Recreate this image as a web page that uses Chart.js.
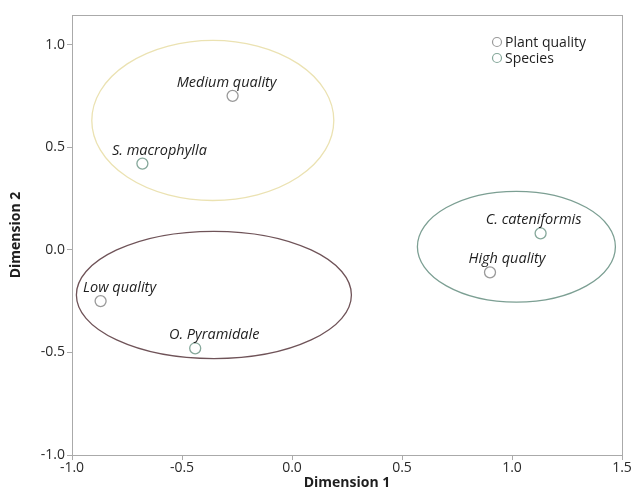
<!DOCTYPE html>
<html>
<head>
<meta charset="utf-8">
<script src="https://cdn.jsdelivr.net/npm/chart.js@4.4.1/dist/chart.umd.min.js"></script>
<style>
  html, body { margin: 0; padding: 0; background: #fff; }
  #wrap { width: 633px; height: 491px; }
</style>
</head>
<body>
<div id="wrap"><canvas id="chart"></canvas></div>
<script>
// Plant quality points
const qualityNames = ["Medium quality", "Low quality", "High quality"];
const qualityX = [-0.27, -0.87, 0.90];
const qualityY = [0.75, -0.25, -0.11];

// Species points
const speciesNames = ["S. macrophylla", "O. Pyramidale", "C. cateniformis"];
const speciesX = [-0.68, -0.44, 1.13];
const speciesY = [0.42, -0.48, 0.08];

// Grouping ellipses (centre and radii in data units)
const ellipseCX = [-0.36, -0.355, 1.02];
const ellipseCY = [0.63, -0.22, 0.015];
const ellipseRX = [0.55, 0.625, 0.45];
const ellipseRY = [0.39, 0.31, 0.27];

// Tick labels
const xTicks = [-1.0, -0.5, 0.0, 0.5, 1.0, 1.5];
const yTicks = [-1.0, -0.5, 0.0, 0.5, 1.0];

// styling (kept apart from the data)
const ellipseColors = ["#ebe2b2", "#6f5358", "#7c9f93"];
const qualityLabelDx = [-6, 19, 17];
const speciesLabelDx = [17, 19, -7];
const FONT = "'Open Sans', 'Noto Sans', sans-serif";

function toPoints(xs, ys) {
  return xs.map((x, i) => ({ x: x, y: ys[i] }));
}

// ellipses, frame, point labels and legend
const extras = {
  id: "extras",
  beforeDatasetsDraw(chart) {
    const ctx = chart.ctx;
    const xs = chart.scales.x;
    const ys = chart.scales.y;
    ctx.save();
    for (let i = 0; i < ellipseCX.length; i++) {
      const cx = xs.getPixelForValue(ellipseCX[i]);
      const cy = ys.getPixelForValue(ellipseCY[i]);
      const rx = Math.abs(xs.getPixelForValue(ellipseCX[i] + ellipseRX[i]) - cx);
      const ry = Math.abs(ys.getPixelForValue(ellipseCY[i] + ellipseRY[i]) - cy);
      ctx.beginPath();
      ctx.ellipse(cx, cy, rx, ry, 0, 0, Math.PI * 2);
      ctx.strokeStyle = ellipseColors[i];
      ctx.lineWidth = 1.3;
      ctx.stroke();
    }
    ctx.restore();
  },
  afterDatasetsDraw(chart) {
    const ctx = chart.ctx;
    const area = chart.chartArea;
    ctx.save();
    // frame
    ctx.strokeStyle = "#aaaaaa";
    ctx.lineWidth = 1;
    ctx.strokeRect(area.left + 0.5, area.top + 0.5, area.right - area.left, area.bottom - area.top);

    // point labels
    ctx.font = "italic 14.5px " + FONT;
    ctx.fillStyle = "#1e1e1e";
    ctx.textAlign = "center";
    ctx.textBaseline = "alphabetic";
    const groups = [
      { names: qualityNames, dx: qualityLabelDx, meta: chart.getDatasetMeta(0) },
      { names: speciesNames, dx: speciesLabelDx, meta: chart.getDatasetMeta(1) },
    ];
    groups.forEach((g) => {
      g.meta.data.forEach((pt, i) => {
        ctx.fillText(g.names[i], pt.x + g.dx[i], pt.y - 9);
      });
    });

    // legend
    const lx = area.right - 125;
    const items = chart.data.datasets;
    ctx.font = "14px " + FONT;
    ctx.textAlign = "left";
    ctx.textBaseline = "middle";
    items.forEach((ds, i) => {
      const ly = area.top + 27 + i * 16;
      ctx.beginPath();
      ctx.arc(lx, ly, 4.5, 0, Math.PI * 2);
      ctx.strokeStyle = ds.borderColor;
      ctx.lineWidth = 1.2;
      ctx.stroke();
      ctx.fillStyle = "#1e1e1e";
      ctx.fillText(ds.label, lx + 8, ly + 1);
    });
    ctx.restore();
  },
};

const ctx = document.getElementById("chart").getContext("2d");
new Chart(ctx, {
  type: "scatter",
  data: {
    datasets: [
      {
        label: "Plant quality",
        data: toPoints(qualityX, qualityY),
        borderColor: "#9a9a9a",
        backgroundColor: "rgba(255,255,255,0)",
        pointRadius: 5.5,
        pointBorderWidth: 1.3,
      },
      {
        label: "Species",
        data: toPoints(speciesX, speciesY),
        borderColor: "#86a89b",
        backgroundColor: "rgba(255,255,255,0)",
        pointRadius: 5.5,
        pointBorderWidth: 1.3,
      },
    ],
  },
  options: {
    responsive: true,
    maintainAspectRatio: false,
    animation: false,
    layout: { padding: { top: 15, right: 11, left: 0, bottom: 0 } },
    plugins: {
      legend: { display: false },
      tooltip: { enabled: false },
    },
    scales: {
      x: {
        type: "linear",
        min: -1.0,
        max: 1.5,
        afterBuildTicks: (scale) => {
          scale.ticks = xTicks.map((v) => ({ value: v }));
        },
        afterFit: (scale) => {
          scale.height = 36;
        },
        grid: { display: true, drawOnChartArea: false, drawTicks: true, tickLength: 5, color: "#aaaaaa" },
        border: { display: true, color: "#aaaaaa" },
        ticks: {
          padding: 0,
          color: "#2a2a2a",
          font: { family: FONT, size: 14 },
          maxRotation: 0,
          callback: (v) => Number(v).toFixed(1),
        },
        title: {
          display: true,
          text: "Dimension 1",
          color: "#1e1e1e",
          padding: { top: 0, bottom: 0 },
          font: { family: FONT, size: 14, weight: "bold" },
        },
      },
      y: {
        type: "linear",
        min: -1.0,
        max: 1.144,
        afterBuildTicks: (scale) => {
          scale.ticks = yTicks.map((v) => ({ value: v }));
        },
        afterFit: (scale) => {
          scale.width = 72;
        },
        grid: { display: true, drawOnChartArea: false, drawTicks: true, tickLength: 5, color: "#aaaaaa" },
        border: { display: true, color: "#aaaaaa" },
        ticks: {
          padding: 2,
          color: "#2a2a2a",
          font: { family: FONT, size: 14 },
          callback: (v) => Number(v).toFixed(1),
        },
        title: {
          display: true,
          text: "Dimension 2",
          color: "#1e1e1e",
          padding: { top: 8, bottom: 0 },
          font: { family: FONT, size: 14, weight: "bold" },
        },
      },
    },
  },
  plugins: [extras],
});
</script>
</body>
</html>
